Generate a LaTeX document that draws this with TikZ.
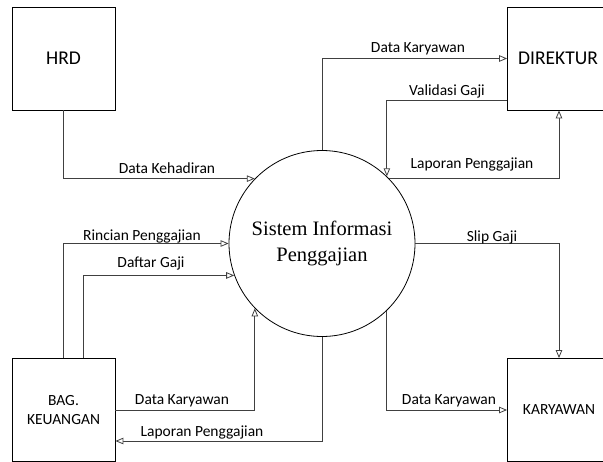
\documentclass[tikz,border=0pt]{standalone}
\usepackage{fontspec}
\setmainfont{Carlito}
\newfontfamily\serfont{Liberation Serif}
\usetikzlibrary{arrows.meta}
\begin{document}
\begin{tikzpicture}[x=1pt,y=-1pt,
  ent/.style={draw=black,line width=0.8pt,minimum width=103pt,minimum height=103pt,inner sep=0pt,align=center},
  flow/.style={draw=black!75,line width=0.8pt,-{Triangle[open,length=8pt,width=6.5pt,fill=white]}},
  lbl/.style={anchor=base,inner sep=0pt,font=\fontsize{15.5}{18}\selectfont}]
\useasboundingbox (0,0) rectangle (603,461);
\clip (0,0) rectangle (603,461);
\node[ent,font=\fontsize{19.5}{22}\selectfont] (hrd) at (63.5,58.5) {HRD};
\node[ent,font=\fontsize{19.5}{22}\selectfont] (dir) at (559,58.5) {\hspace*{-2pt}DIREKTUR};
\node[ent,font=\fontsize{15.5}{18.5}\selectfont] (bag) at (63.5,410) {BAG.\\KEUANGAN};
\node[ent,font=\fontsize{15.5}{18.5}\selectfont] (kar) at (559,410) {KARYAWAN};
\node[draw=black,line width=0.8pt,circle,minimum size=186pt,inner sep=0pt,align=center,
  font=\serfont\fontsize{20.5}{26}\selectfont] (sis) at (322,243.5) {Sistem Informasi\\Penggajian};
% flows
\draw[flow] (hrd.south) |- (sis.136.1);
\draw[flow] (sis.north) |- (dir.west);
\draw[flow] ([yshift=-41.5pt]dir.west) -| (sis.46);
\draw[flow] (sis.44) -| (dir.south);
\draw[flow] (bag.north) |- (sis.west);
\draw[flow] ([xshift=20pt]bag.north) |- (sis.200.5);
\draw[flow] (bag.east) -| (sis.224.8);
\draw[flow] (sis.south) |- ([yshift=-31pt]bag.east);
\draw[flow] (sis.east) -| (kar.north);
\draw[flow] (sis.314.4) |- (kar.west);
% labels
\node[lbl] (l1) at (167,173.5) {Data Kehadiran};
\node[lbl] (l2) at (418,52) {Data Karyawan};
\node[lbl] (l3) at (447,95) {Validasi Gaji};
\node[lbl] (l4) at (472,168) {Laporan Penggajian};
\node[lbl] (l5) at (142,240) {Rincian Penggajian};
\node[lbl] (l6) at (151,267) {Daftar Gaji};
\node[lbl] (l7) at (182,404) {Data Karyawan};
\node[lbl] (l8) at (202,436) {Laporan Penggajian};
\node[lbl] (l9) at (492,241) {Slip Gaji};
\node[lbl] (l10) at (449,404) {Data Karyawan};
\end{tikzpicture}
\end{document}
